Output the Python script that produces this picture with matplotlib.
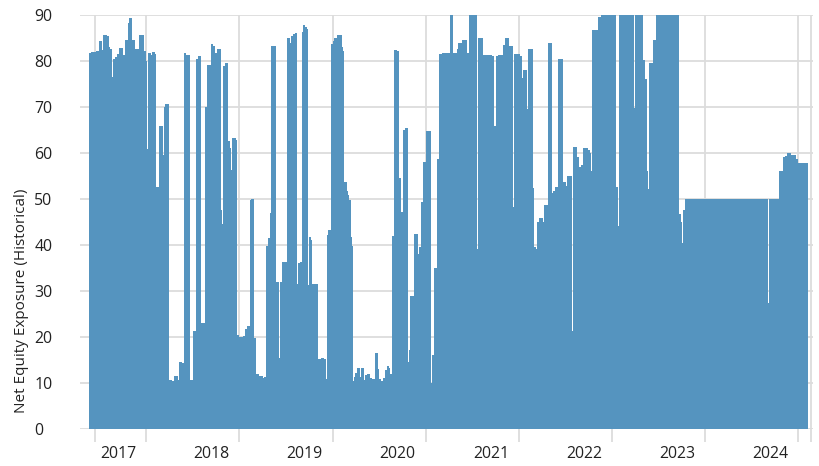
import matplotlib
matplotlib.use("Agg")
import matplotlib.pyplot as plt
import numpy as np

# step data: each value holds from its start (decimal year) to the next start
period_start = [
    2016.682, 2016.707, 2016.761, 2016.789, 2016.825, 2016.839, 2016.875, 2016.897,
    2016.914, 2016.929, 2016.947, 2016.961, 2016.982, 2017.008, 2017.047, 2017.072,
    2017.104, 2017.118, 2017.144, 2017.179, 2017.222, 2017.272, 2017.301, 2017.306,
    2017.317, 2017.355, 2017.365, 2017.398, 2017.405, 2017.437, 2017.480, 2017.491,
    2017.505, 2017.541, 2017.577, 2017.598, 2017.637, 2017.652, 2017.684, 2017.705,
    2017.727, 2017.770, 2017.802, 2017.834, 2017.859, 2017.884, 2017.927, 2017.952,
    2017.995, 2018.020, 2018.042, 2018.063, 2018.103, 2018.117, 2018.128, 2018.149,
    2018.178, 2018.196, 2018.214, 2018.224, 2018.260, 2018.278, 2018.296, 2018.321,
    2018.342, 2018.360, 2018.382, 2018.414, 2018.428, 2018.457, 2018.478, 2018.507,
    2018.554, 2018.568, 2018.586, 2018.607, 2018.629, 2018.640, 2018.693, 2018.722,
    2018.733, 2018.761, 2018.808, 2018.840, 2018.854, 2018.876, 2018.894, 2018.915,
    2018.929, 2018.951, 2018.972, 2018.987, 2019.008, 2019.022, 2019.033, 2019.047,
    2019.069, 2019.083, 2019.141, 2019.176, 2019.212, 2019.226, 2019.237, 2019.255,
    2019.287, 2019.302, 2019.312, 2019.330, 2019.348, 2019.398, 2019.409, 2019.423,
    2019.456, 2019.470, 2019.481, 2019.495, 2019.509, 2019.524, 2019.534, 2019.545,
    2019.559, 2019.595, 2019.606, 2019.638, 2019.652, 2019.674, 2019.702, 2019.724,
    2019.756, 2019.788, 2019.799, 2019.824, 2019.838, 2019.867, 2019.881, 2019.903,
    2019.917, 2019.939, 2019.960, 2019.989, 2020.010, 2020.035, 2020.057, 2020.082,
    2020.107, 2020.118, 2020.132, 2020.175, 2020.218, 2020.229, 2020.250, 2020.271,
    2020.304, 2020.357, 2020.368, 2020.390, 2020.422, 2020.443, 2020.476, 2020.561,
    2020.594, 2020.637, 2020.647, 2020.690, 2020.744, 2020.765, 2020.851, 2020.862,
    2020.916, 2020.969, 2021.012, 2021.039, 2021.055, 2021.077, 2021.130, 2021.152,
    2021.195, 2021.238, 2021.249, 2021.313, 2021.334, 2021.345, 2021.388, 2021.399,
    2021.453, 2021.463, 2021.485, 2021.496, 2021.517, 2021.560, 2021.571, 2021.614,
    2021.657, 2021.667, 2021.689, 2021.721, 2021.775, 2021.807, 2021.818, 2021.871,
    2021.882, 2021.925, 2021.946, 2021.968, 2021.989, 2022.043, 2022.064, 2022.075,
    2022.086, 2022.150, 2022.183, 2022.344, 2022.365, 2022.376, 2022.537, 2022.548,
    2022.634, 2022.655, 2022.676, 2022.687, 2022.698, 2022.741, 2022.773, 2023.020,
    2023.041, 2023.052, 2023.063, 2023.084, 2023.976, 2023.986, 2024.094, 2024.137,
    2024.158, 2024.180, 2024.222, 2024.276, 2024.298,
]
last_end = 2024.405

exposure = [
    81.8, 82.0, 82.2, 84.3, 82.4, 85.6, 85.4, 83.1,
    82.6, 76.6, 80.4, 80.8, 81.5, 82.8, 81.2, 84.6,
    88.3, 89.3, 84.6, 82.6, 85.6, 82.2, 80.0, 60.8,
    81.8, 81.3, 82.0, 81.5, 52.7, 65.9, 59.6, 70.1,
    70.6, 10.6, 10.5, 11.6, 10.6, 14.6, 14.4, 81.8,
    81.2, 10.6, 21.2, 80.4, 81.1, 23.1, 69.9, 79.1,
    83.6, 83.3, 81.7, 82.7, 47.6, 44.6, 78.9, 79.5,
    62.7, 61.1, 56.3, 63.3, 62.8, 20.4, 20.1, 19.9,
    20.2, 21.7, 22.4, 49.8, 50.0, 19.8, 11.9, 11.5,
    11.0, 11.2, 39.8, 41.5, 47.0, 83.3, 32.0, 15.5,
    31.9, 36.2, 84.9, 84.0, 85.5, 85.9, 86.0, 31.5,
    36.0, 36.4, 86.4, 87.8, 87.5, 87.0, 31.3, 41.7,
    41.0, 31.5, 15.2, 15.5, 15.2, 10.9, 42.2, 43.3,
    83.8, 84.4, 84.9, 85.1, 85.6, 83.1, 82.2, 53.6,
    51.7, 50.9, 49.8, 41.8, 39.8, 10.5, 11.2, 12.2,
    13.3, 11.2, 13.3, 10.6, 11.7, 12.0, 11.1, 10.8,
    16.6, 13.0, 10.8, 10.5, 11.1, 12.8, 13.7, 13.2,
    11.9, 42.0, 82.4, 82.2, 54.5, 47.2, 64.9, 65.4,
    14.6, 17.2, 28.9, 42.4, 38.0, 39.6, 49.3, 58.0,
    64.8, 10.1, 16.1, 35.1, 58.7, 81.5, 81.8, 94.0,
    81.8, 82.7, 84.0, 84.6, 81.8, 95.0, 39.1, 84.9,
    81.4, 81.2, 81.0, 65.9, 81.1, 81.4, 83.5, 85.0,
    83.3, 48.3, 81.5, 81.0, 76.4, 78.0, 69.6, 82.6,
    52.5, 39.6, 39.2, 45.0, 45.9, 45.0, 48.7, 83.9,
    51.4, 51.7, 52.6, 80.4, 53.6, 52.9, 55.0, 21.2,
    61.3, 59.2, 57.0, 57.5, 61.0, 60.7, 60.0, 56.1,
    86.7, 89.6, 96.0, 52.7, 44.1, 96.0, 69.8, 96.0,
    80.2, 76.1, 56.1, 52.2, 79.6, 84.6, 96.0, 46.8,
    44.9, 40.5, 47.6, 50.0, 27.5, 50.0, 56.1, 59.2,
    59.4, 60.0, 59.6, 58.7, 57.8,
]

year_labels = [2017, 2018, 2019, 2020, 2021, 2022, 2023, 2024]
grid_x = [2016.747, 2017.3, 2018.3, 2019.3, 2020.3, 2021.3, 2022.3, 2023.3, 2024.3, 2024.44]
y_ticks = list(range(0, 91, 10))

grid_col = '#dcdcdc'
bar_col = '#5594bf'
text_col = '#222222'
font = 'Open Sans'

fig = plt.figure(figsize=(8.19, 4.66), dpi=100)
ax = fig.add_axes([0.0977, 0.0794, 0.8951, 0.8884])

edges = np.append(period_start, last_end)
widths = np.diff(edges)
ax.bar(period_start, exposure, width=widths, align='edge', color=bar_col,
       linewidth=0, zorder=2)

ax.set_xlim(2016.589, 2024.46)
ax.set_ylim(0, 90)

ax.set_axisbelow(True)
for s in ax.spines.values():
    s.set_visible(False)

# major ticks -> grid lines and tick marks, minor ticks -> year labels
ax.set_xticks(grid_x)
ax.set_xticklabels([])
ax.set_xticks(year_labels, minor=True)
ax.set_xticklabels([str(y) for y in year_labels], minor=True,
                   fontfamily=font, fontsize=11.4, color=text_col)
ax.tick_params(axis='x', which='major', length=9.5, width=1.3, color=grid_col)
ax.tick_params(axis='x', which='minor', length=0, pad=12)
ax.grid(axis='x', which='major', color=grid_col, linewidth=1.3)

ax.set_yticks(y_ticks)
ax.set_yticklabels([str(v) for v in y_ticks], fontfamily=font,
                   fontsize=11.4, color=text_col, ha='left')
ax.tick_params(axis='y', length=0, pad=33)
ax.grid(axis='y', color=grid_col, linewidth=1.3)

ax.set_ylabel('Net Equity Exposure (Historical)', fontfamily=font,
              fontsize=11, color=text_col, rotation=90, va='center', ha='center')
ax.yaxis.set_label_coords(-0.0805, 0.31)

fig.savefig('out.png', dpi=100)
